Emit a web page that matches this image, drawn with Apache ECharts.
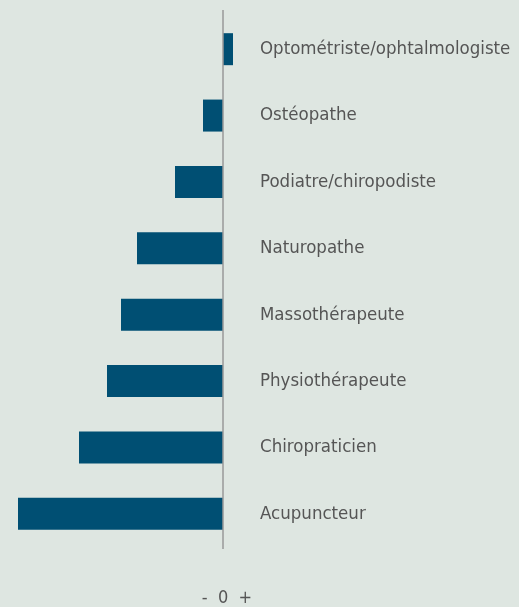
<!DOCTYPE html>
<html lang="fr">
<head>
    <meta charset="UTF-8">
    <title>Barres</title>
    <style>
        html, body { margin: 0; padding: 0; background: #dee6e1; }
        #main { width: 519px; height: 607px; }
    </style>
</head>
<body>
<div id="main"></div>
<script src="https://cdn.jsdelivr.net/npm/echarts@6/dist/echarts.min.js"></script>
<script>
    // catégories (de bas en haut) et valeurs
    var categories = ['Acupuncteur', 'Chiropraticien', 'Physiothérapeute', 'Massothérapeute',
        'Naturopathe', 'Podiatre/chiropodiste', 'Ostéopathe', 'Optométriste/ophtalmologiste'];
    var values = [-205, -144, -116, -102, -86, -48, -20, 10];
    var axisLabelText = '-  0  +';
    var font = '"DejaVu Sans Condensed", "DejaVu Sans", sans-serif';

    var myChart = echarts.init(document.getElementById('main'));
    var option = {
        backgroundColor: '#dee6e1',
        animation: false,
        grid: [
            {left: 18, right: 267, top: 16, bottom: 60},
            // grille pour la ligne du zéro (un peu plus haute)
            {left: 18, right: 267, top: 10, bottom: 58}
        ],
        xAxis: [{
            type: 'value',
            gridIndex: 0,
            min: -205,
            max: 29,
            interval: 205,
            splitLine: {show: false},
            axisLine: {show: false},
            axisTick: {show: false},
            axisLabel: {
                margin: 42,
                color: '#555',
                fontSize: 18,
                fontFamily: font,
                padding: [0, 0, 0, 8],
                formatter: function (v) {
                    return v === 0 ? axisLabelText : '';
                }
            }
        }, {
            type: 'value',
            gridIndex: 1,
            min: -205,
            max: 29,
            show: false
        }],
        yAxis: [{
            type: 'category',
            gridIndex: 0,
            data: categories,
            position: 'right',
            axisLine: {show: false},
            axisTick: {show: false},
            axisLabel: {
                margin: 8,
                color: '#555',
                fontSize: 18.5,
                fontFamily: font
            }
        }, {
            type: 'value',
            gridIndex: 1,
            min: 0,
            max: 1,
            show: false
        }],
        series: [{
            type: 'bar',
            data: values,
            barWidth: 32,
            itemStyle: {color: '#004f73'}
        }, {
            type: 'line',
            xAxisIndex: 1,
            yAxisIndex: 1,
            data: [],
            markLine: {
                silent: true,
                symbol: 'none',
                label: {show: false},
                lineStyle: {color: '#999', width: 1.5, type: 'solid'},
                data: [{xAxis: 0}]
            }
        }]
    };
    myChart.setOption(option);
</script>
</body>
</html>
